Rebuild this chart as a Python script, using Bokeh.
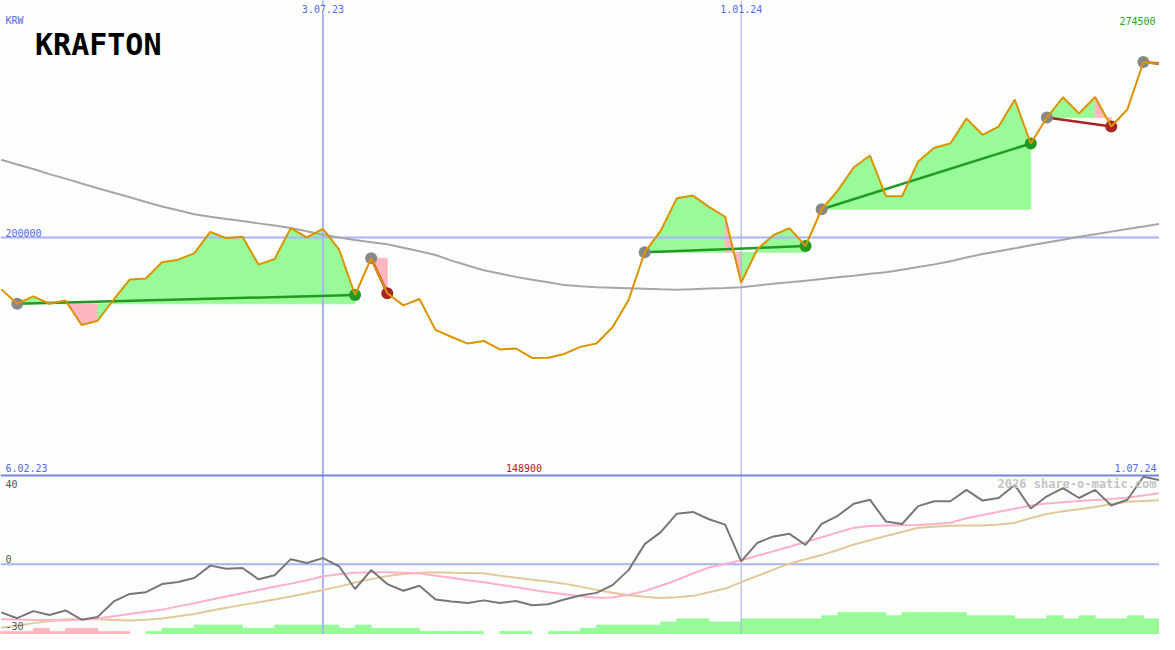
from bokeh.plotting import figure
from bokeh.models import Range1d, Span, Label, ColumnDataSource
from bokeh.embed import file_html
from bokeh.resources import INLINE

# ---------------- data (weekly, week 0 = 6.02.23) ----------------
weeks = list(range(1, 74))
price = [178100, 171900, 175000, 171900, 173300, 162900, 164700, 173700, 182200, 182600,
         189500, 190600, 193300, 202400, 199700, 200300, 188500, 190900, 204000, 200100,
         203700, 195000, 175600, 191200, 176400, 171200, 173900, 160800, 157800, 155000,
         156100, 152500, 152900, 148900, 149000, 150600, 153600, 155000, 161900, 173500,
         193700, 202900, 216700, 217800, 213000, 208800, 180800, 195000, 201000, 204000,
         196400, 212000, 219900, 229800, 234800, 217500, 217500, 232300, 238100, 239900,
         250500, 243600, 247100, 258500, 239900, 250900, 259500, 252600, 259600, 247100,
         254300, 274500, 273700]
ma_long = [233000, 231000, 229100, 226900, 225000, 222900, 220900, 219000, 217100, 215100,
           213200, 211600, 209900, 208800, 207900, 207000, 206000, 205100, 204000, 202700,
           201200, 200000, 198900, 198000, 197100, 195700, 194200, 192600, 190200, 188100,
           186100, 184700, 183300, 182100, 181000, 179800, 179300, 178900, 178700, 178500,
           178300, 178000, 177800, 178100, 178400, 178600, 178900, 179600, 180400, 181000,
           181700, 182400, 183100, 183800, 184600, 185300, 186300, 187500, 188600, 189900,
           191500, 193000, 194200, 195400, 196700, 197900, 199100, 200300, 201400, 202500,
           203600, 204700, 205800]
osc = [-22.4, -25.1, -21.8, -23.6, -21.5, -25.8, -24.5, -17.3, -13.8, -13.0,
       -9.2, -8.2, -6.4, -0.6, -2.1, -1.7, -7.0, -5.1, 2.4, 0.6,
       2.9, -0.9, -11.5, -2.7, -9.2, -12.3, -10.0, -16.4, -17.3, -18.0,
       -16.8, -18.0, -17.1, -19.1, -18.6, -16.4, -14.5, -13.3, -9.7, -2.7,
       9.4, 15.0, 23.6, 24.4, 21.0, 18.5, 1.4, 10.0, 13.0, 14.2,
       9.0, 18.8, 22.6, 28.2, 30.1, 19.9, 18.8, 27.1, 29.4, 29.4,
       34.7, 29.7, 30.9, 37.0, 26.0, 31.7, 35.5, 30.9, 34.7, 27.4,
       30.1, 40.8, 39.2]
osc_fast = [-25.6, -25.7, -25.9, -26.0, -26.2, -25.7, -25.2, -24.2, -23.2, -22.1,
            -21.2, -19.6, -18.1, -16.5, -15.0, -13.5, -12.0, -10.5, -9.0, -7.4,
            -5.6, -4.6, -3.9, -3.7, -3.7, -3.9, -4.2, -5.3, -6.3, -7.4,
            -8.4, -9.5, -10.7, -11.9, -13.0, -14.0, -14.9, -15.6, -15.5, -14.2,
            -12.5, -10.0, -7.3, -4.3, -1.5, 0.2, 1.9, 4.0, 6.1, 8.2,
            10.4, 12.6, 14.9, 17.0, 17.9, 18.1, 18.2, 18.3, 18.8, 19.4,
            21.5, 23.0, 24.5, 25.9, 27.4, 28.3, 28.9, 29.5, 30.0, 30.4,
            31.1, 32.1, 33.2]
osc_slow = [-29.6, -28.6, -27.4, -26.5, -25.6, -25.6, -25.6, -25.9, -26.2, -25.8,
            -25.2, -24.2, -23.1, -21.6, -20.2, -18.9, -17.7, -16.4, -15.0, -13.5,
            -12.0, -10.4, -8.5, -6.9, -5.5, -4.5, -3.9, -3.7, -3.9, -4.0,
            -4.2, -5.3, -6.3, -7.2, -8.0, -9.0, -10.4, -11.9, -13.2, -14.4,
            -15.1, -15.7, -15.3, -14.7, -13.0, -11.3, -8.3, -5.4, -2.5, 0.3,
            2.4, 4.3, 6.7, 9.2, 11.2, 13.2, 15.1, 17.0, 17.5, 18.0,
            18.1, 18.1, 18.6, 19.3, 21.6, 23.4, 24.7, 25.7, 26.7, 28.1,
            29.1, 29.5, 29.9]
# histogram levels, bar i covers week i .. i+1
hist = [-1, -1, -1, -2, -1, -2, -2, -1, -1, 0,
        1, 2, 2, 3, 3, 3, 2, 2, 3, 3,
        3, 3, 2, 3, 2, 2, 2, 1, 1, 1,
        1, 0, 1, 1, 0, 1, 1, 2, 3, 3,
        3, 3, 4, 5, 5, 4, 4, 5, 5, 5,
        5, 5, 6, 7, 7, 7, 6, 7, 7, 7,
        7, 6, 6, 6, 5, 5, 6, 5, 6, 5,
        5, 6, 5]
trade_entry = [2, 24, 41, 52, 66, 72]
trade_exit = [23, 25, 51, 65, 70, 73]
trade_open = [False, False, False, False, False, True]
date_marks = [21, 47]
date_labels = ["3.07.23", "1.01.24"]
start_label, end_label = "6.02.23", "1.07.24"
currency = "KRW"
title = "KRAFTON"
ref_level = 200000
ind_labels = [40, 0, -30]

# ---------------- styling / layout ----------------
BG = "#fcfefc"
BLUE_TXT = "#5566ee"
GRID = "#a8b4f4"
ORANGE = "#dd9200"
GREEN = "#229a22"
RED = "#aa2222"
FILL_UP = "#98fb98"
FILL_DN = "#ffb6c1"
FONT = "DejaVu Sans Mono"

W, H = 1159, 634
REF_W, REF_H = 1175, 650
X0, X1 = 0.96, 73.0
P_BOT, P_TOP = 31540, 300580
I_BOT, I_TOP = -32.7, 262.7

def wx(px):
    return X0 + px / REF_W * (X1 - X0)

def py(px):
    return P_TOP - px / REF_H * (P_TOP - P_BOT)

p = figure(width=W, height=H, x_range=Range1d(X0, X1), y_range=Range1d(P_BOT, P_TOP),
           output_backend="svg", toolbar_location=None, min_border=0,
           x_axis_location=None, y_axis_location=None,
           background_fill_color=BG, border_fill_color=BG, outline_line_color=None)
p.grid.visible = False
p.extra_y_ranges = {"ind": Range1d(I_BOT, I_TOP), "hist": Range1d(0, 203.1)}

# ---- trade fills (per weekly segment) ----
fxs, fys, fcol = [], [], []
for e, x in zip(trade_entry, trade_exit):
    base = price[e - 1]
    for k in range(e, x):
        p0, p1 = price[k - 1], price[k]
        fxs.append([k, k, k + 1, k + 1])
        fys.append([base, p0, p1, base])
        fcol.append(FILL_UP if p1 >= base else FILL_DN)
p.patches(xs="xs", ys="ys", fill_color="c", line_color="c", line_width=0.8, level="underlay",
          source=ColumnDataSource(dict(xs=fxs, ys=fys, c=fcol)))

# ---- histogram bars ----
hl = [i for i in range(len(hist))]
hc = [FILL_UP if v >= 0 else FILL_DN for v in hist]
p.quad(left=hl, right=[i + 1 for i in hl], bottom=[0] * len(hist), top=[abs(v) for v in hist],
       fill_color=hc, line_color=hc, line_width=0.8,
       y_range_name="hist", level="underlay")

# ---- reference lines ----
p.add_layout(Span(location=ref_level, dimension="width", line_color=GRID, line_width=2, level="underlay"))
p.add_layout(Span(location=0, dimension="width", line_color=GRID, line_width=2,
                  y_range_name="ind", level="underlay"))
p.add_layout(Span(location=date_marks[0], dimension="height", line_color=GRID, line_width=2, level="underlay"))
p.add_layout(Span(location=date_marks[1], dimension="height", line_color="#a8aed8", line_width=1, level="underlay"))
p.add_layout(Span(location=py(487), dimension="width", line_color="#7484ee", line_width=2, level="underlay"))

# ---- main panel lines ----
p.line(weeks, ma_long, line_color="#a6a6a6", line_width=2)

# trade lines
sx0, sy0, sx1, sy1, sc = [], [], [], [], []
for e, x in zip(trade_entry, trade_exit):
    sx0.append(e); sy0.append(price[e - 1]); sx1.append(x); sy1.append(price[x - 1])
    sc.append(GREEN if price[x - 1] > price[e - 1] else RED)
p.segment(x0=sx0, y0=sy0, x1=sx1, y1=sy1, line_color=sc, line_width=2.5)

# markers
p.scatter(trade_entry, [price[e - 1] for e in trade_entry], size=12, marker="circle",
          fill_color="#888888", line_color=None)
cx = [x for x, o in zip(trade_exit, trade_open) if not o]
cy = [price[x - 1] for x in cx]
cc = [GREEN if price[x - 1] > price[e - 1] else RED
      for e, x, o in zip(trade_entry, trade_exit, trade_open) if not o]
p.scatter(cx, cy, size=12, marker="circle", fill_color=cc, line_color=None)

p.line(weeks, price, line_color=ORANGE, line_width=2)

# ---- lower panel lines ----
p.line(weeks, osc_slow, line_color="#e2c89c", line_width=2, y_range_name="ind")
p.line(weeks, osc_fast, line_color="#ffb0c8", line_width=2, y_range_name="ind")
p.line(weeks, osc, line_color="#777777", line_width=2, y_range_name="ind")

# ---- texts ----
def lab(text, x, y, color, size="10px", align="left", base="middle", bold=False, bg=None, xoff=0):
    kw = dict(x=x, y=y, text=text, text_color=color, text_font=FONT, text_font_size=size,
              text_align=align, text_baseline=base, text_font_style="bold" if bold else "normal",
              x_offset=xoff)
    if bg:
        kw["background_fill_color"] = bg
    p.add_layout(Label(**kw))

lab(currency, wx(5), py(21), BLUE_TXT)
lab(title, wx(35), py(45), "#000000", size="30px", bold=True)
for k, t in zip(date_marks, date_labels):
    lab(t, k, py(9), BLUE_TXT, align="center", bg=BG)
lab(f"{max(price)}", wx(1171), py(21), "#22aa22", align="right")
lab(f"{ref_level}", wx(5), py(238), BLUE_TXT)
lab(start_label, wx(5), py(479), BLUE_TXT)
kmin = weeks[price.index(min(price))]
lab(f"{min(price)}", kmin, py(479), "#aa2020", align="center", xoff=-8)
lab(end_label, wx(1172), py(479), BLUE_TXT, align="right")
lab("2026 share-o-matic.com", wx(1172), py(496), "#c4c4c4", size="12px", align="right", bold=True)
lab(str(ind_labels[0]), wx(5), py(496), "#555555")
lab(str(ind_labels[1]), wx(5), py(573), "#555555")
lab(str(ind_labels[2]), wx(5), py(641), "#555555")

open("out.html", "w").write(file_html(p, INLINE))
